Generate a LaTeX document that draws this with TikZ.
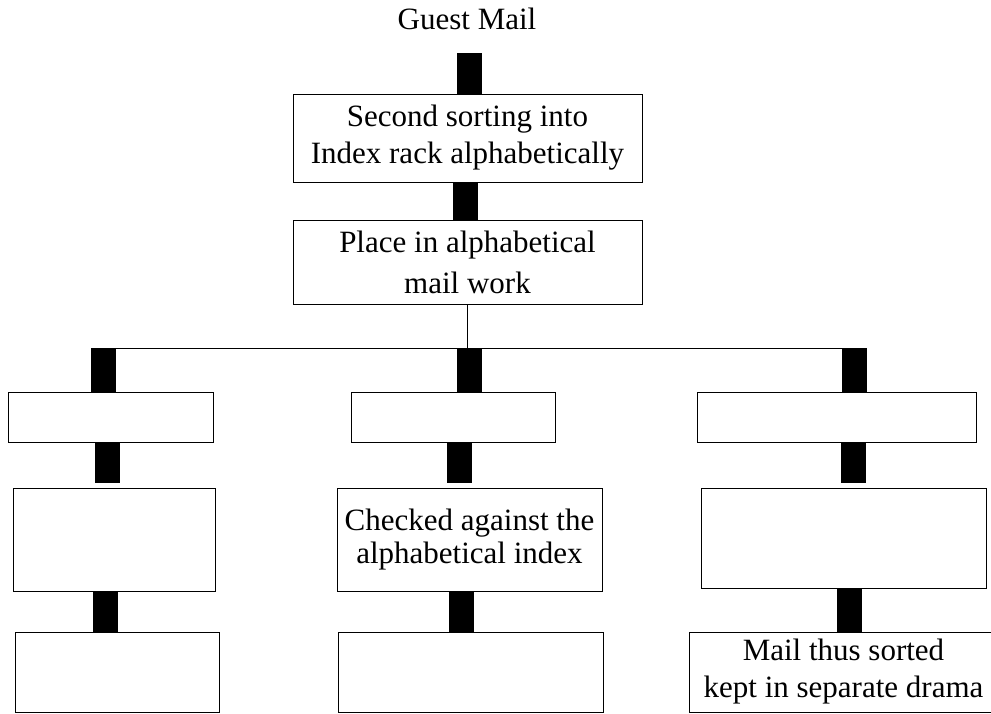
\documentclass[tikz,border=0pt]{standalone}
\usepackage{fontspec}
\setmainfont{Liberation Serif}
\tikzset{>=latex}
\tikzset{
  box/.style={draw, line width=1pt, inner sep=0pt, align=center,
    font=\fontsize{31}{37}\selectfont},
  bar/.style={line width=25pt},
  link/.style={line width=1pt}
}

\begin{document}
\begin{tikzpicture}[x=1pt,y=-1pt]
        \useasboundingbox (0,0) rectangle (991,713);
        \node[font=\fontsize{31}{37}\selectfont] (guest) at (467,19) {Guest Mail};
        \coordinate (in) at (469.5,53);

        \node[box, minimum width=349, minimum height=88] (sort) at (467.5,138)
            {Second sorting into\\Index rack alphabetically};
        \node[box, minimum width=349, minimum height=84,
            font=\fontsize{31}{41}\selectfont] (place) at (467.5,262)
            {Place in alphabetical\\mail work};

        \coordinate (jl) at (102,348);
        \coordinate (jm) at (467.5,348);
        \coordinate (jr) at (853,348);

        % left column
        \node[box, minimum width=205, minimum height=50] (l1) at (110.5,417) {};
        \node[box, minimum width=202, minimum height=103] (l2) at (114,539.5) {};
        \node[box, minimum width=204, minimum height=80] (l3) at (117,672) {};
        % middle column
        \node[box, minimum width=204, minimum height=50] (m1) at (453,417) {};
        \node[box, minimum width=265, minimum height=103,
            font=\fontsize{31}{33}\selectfont] (m2) at (469.5,539.5)
            {Checked against the\\alphabetical index};
        \node[box, minimum width=265, minimum height=80] (m3) at (470.5,672) {};
        % right column
        \node[box, minimum width=279, minimum height=50] (r1) at (836.5,417) {};
        \node[box, minimum width=285, minimum height=100] (r2) at (843.5,538) {};
        \node[box, minimum width=309, minimum height=80] (r3) at (843.5,672)
            {Mail thus sorted\\kept in separate drama};

        \draw[link] (place.south) -- (jm);
        \draw[link] (jl) -- (jr);

        \draw[bar] (in) -- (469.5,0 |- sort.north);
        \foreach \a/\b/\x in {sort/place/465.5,
                jl/l1/103.5, jl/m1/469.5, jl/r1/854.5,
                l2/l3/105.5, m2/m3/461, r2/r3/849.5}
            \draw[bar] (\x,0 |- \a.south) -- (\x,0 |- \b.north);
        % these stop short of the box below
        \foreach \a/\b/\x in {l1/l2/107.5, m1/m2/459.5, r1/r2/853.5}
            \draw[bar, shorten >=5pt] (\x,0 |- \a.south) -- (\x,0 |- \b.north);
    \end{tikzpicture}
\end{document}
